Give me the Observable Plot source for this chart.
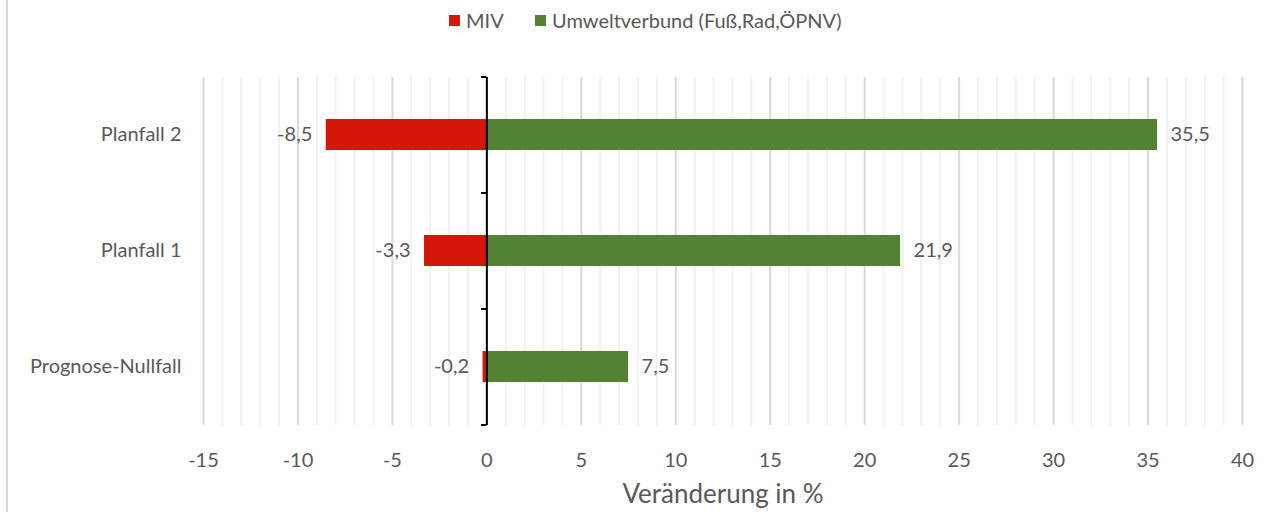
<!DOCTYPE html>
<html>
<head>
<meta charset="utf-8">
<script src="https://cdn.jsdelivr.net/npm/d3@7"></script>
<script src="https://cdn.jsdelivr.net/npm/@observablehq/plot@0.6"></script>
<style>
  html, body { margin: 0; padding: 0; background: #fff; }
  body { width: 1273px; height: 512px; position: relative; overflow: hidden; font-family: Lato, "Open Sans", sans-serif; }
  #border { position: absolute; left: 6px; top: 0; width: 2px; height: 512px; background: #d9d9d9; z-index: 5; }
  #legend { position: relative; height: 44px; }
  .item { position: absolute; top: 8px; display: flex; align-items: center; font-size: 20px; color: #595959; }
  .sw { width: 11px; height: 11px; margin-right: 6px; }
  #chart { position: relative; }
</style>
</head>
<body>
<div id="border"></div>
<div id="legend"></div>
<div id="chart"></div>
<script>
const categories = ["Planfall 2", "Planfall 1", "Prognose-Nullfall"];
const seriesNames = ["MIV", "Umweltverbund (Fuß,Rad,ÖPNV)"];
const mivValues = [-8.5, -3.3, -0.2];
const umweltValues = [35.5, 21.9, 7.5];
const colors = ["#d51709", "#548235"];
const xTicks = [-15, -10, -5, 0, 5, 10, 15, 20, 25, 30, 35, 40];
const minorTicks = d3.range(-15, 41).filter(v => v % 5 !== 0);
const axisTitle = "Veränderung in %";

// legend
const legend = document.getElementById("legend");
const legendLeft = [449, 535];
seriesNames.forEach((name, i) => {
  const it = document.createElement("div");
  it.className = "item";
  it.style.left = legendLeft[i] + "px";
  it.innerHTML = `<div class="sw" style="background:${colors[i]}"></div><span>${name}</span>`;
  legend.appendChild(it);
});

const data = [];
categories.forEach((c, i) => {
  data.push({cat: c, series: seriesNames[0], value: mivValues[i]});
  data.push({cat: c, series: seriesNames[1], value: umweltValues[i]});
});
const neg = data.filter(d => d.value < 0);
const pos = data.filter(d => d.value >= 0);

const fmt = v => v.toFixed(1).replace(".", ",");
const H = 468, mTop = 33, mBottom = 87;
const step = (H - mTop - mBottom) / categories.length;

const chart = Plot.plot({
  width: 1273,
  height: H,
  marginLeft: 203,
  marginRight: 31,
  marginTop: mTop,
  marginBottom: mBottom,
  style: { fontFamily: "Lato, 'Open Sans', sans-serif", color: "#595959", background: "transparent" },
  x: { domain: [-15, 40] },
  y: { domain: categories, paddingInner: 0.73, paddingOuter: 0.365 },
  color: { domain: seriesNames, range: colors },
  marks: [
    Plot.ruleX(minorTicks, { stroke: "#f0f0f0", strokeWidth: 2 }),
    Plot.ruleX(xTicks, { stroke: "#d9d9d9", strokeWidth: 2 }),
    Plot.barX(data, { x: "value", y: "cat", fill: "series" }),
    Plot.ruleX([0], { stroke: "#000", strokeWidth: 2 }),
    Plot.ruleY(categories, { y: d => d, x1: -0.28, x2: 0, dy: -step / 2, stroke: "#000", strokeWidth: 2 }),
    Plot.ruleY(categories.slice(-1), { y: d => d, x1: -0.28, x2: 0, dy: step / 2, stroke: "#000", strokeWidth: 2 }),
    Plot.text(neg, { x: "value", y: "cat", text: d => fmt(d.value), textAnchor: "end", dx: -14, fontSize: 20, fill: "#595959" }),
    Plot.text(pos, { x: "value", y: "cat", text: d => fmt(d.value), textAnchor: "start", dx: 13, fontSize: 20, fill: "#595959" }),
    Plot.axisX({ ticks: xTicks, tickFormat: d => String(d), tickSize: 0, tickPadding: 27, fontSize: 20, label: null }),
    Plot.axisY({ tickSize: 0, tickPadding: 22, fontSize: 20, label: null }),
    Plot.text([axisTitle], { frameAnchor: "bottom", dy: 77, fontSize: 26, fill: "#595959" })
  ]
});
document.getElementById("chart").appendChild(chart);
</script>
</body>
</html>
